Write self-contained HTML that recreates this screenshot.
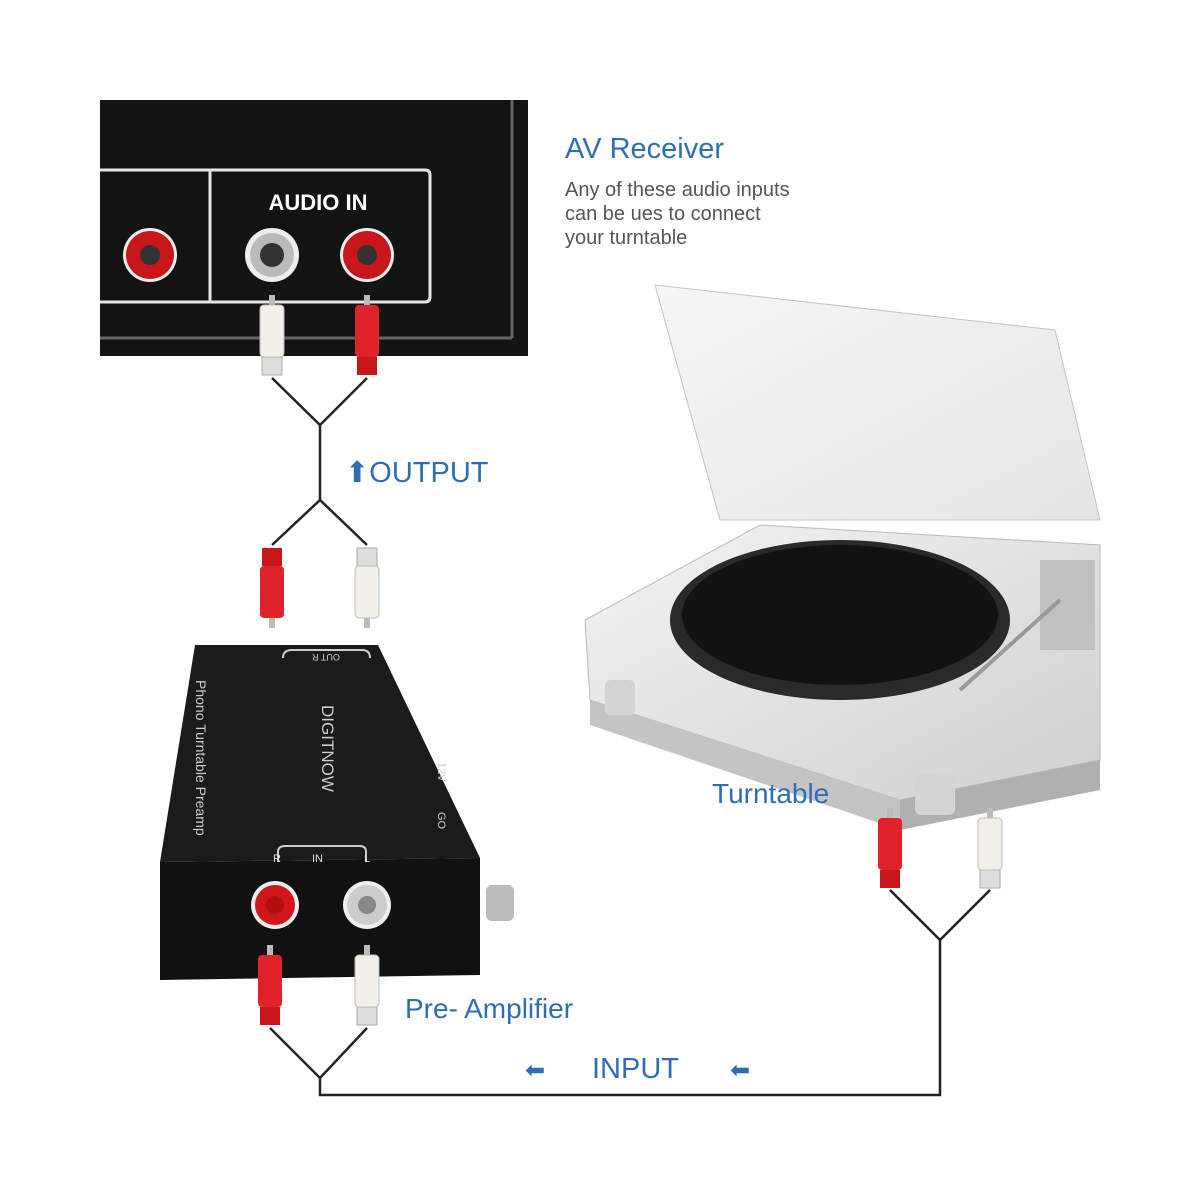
<!DOCTYPE html>
<html><head><meta charset="utf-8"><style>
html,body{margin:0;padding:0;background:#fff;}
svg{display:block;}
</style></head><body>
<svg width="1200" height="1200" viewBox="0 0 1200 1200" xmlns="http://www.w3.org/2000/svg" font-family="Liberation Sans, sans-serif">
<defs>
<linearGradient id="silver" x1="0" y1="0" x2="1" y2="1"><stop offset="0" stop-color="#f4f4f4"/><stop offset="1" stop-color="#d0d0d0"/></linearGradient>
<linearGradient id="lid" x1="0" y1="0" x2="1" y2="1"><stop offset="0" stop-color="#f6f6f6"/><stop offset="1" stop-color="#e6e6e6"/></linearGradient>
<g id="redplug"><rect x="-10" y="0" width="20" height="18" fill="#c8161b"/><rect x="-12" y="18" width="24" height="52" rx="4" fill="#e0222a"/><rect x="-3" y="70" width="6" height="10" fill="#bbb"/></g>
<g id="whiteplug"><rect x="-10" y="0" width="20" height="18" fill="#ddd" stroke="#aaa"/><rect x="-12" y="18" width="24" height="52" rx="4" fill="#f3f0ea" stroke="#bbb"/><rect x="-3" y="70" width="6" height="10" fill="#bbb"/></g>
</defs>

<!-- AV receiver -->
<rect x="100" y="100" width="428" height="256" fill="#131313"/>
<line x1="100" y1="338" x2="512" y2="338" stroke="#666" stroke-width="3"/>
<line x1="512" y1="100" x2="512" y2="338" stroke="#666" stroke-width="3"/>
<path d="M100 170 H425 Q430 170 430 175 V297 Q430 302 425 302 H100" fill="none" stroke="#e6e6e6" stroke-width="3"/>
<line x1="210" y1="170" x2="210" y2="302" stroke="#e6e6e6" stroke-width="3"/>
<text x="318" y="210" font-size="22" font-weight="bold" fill="#fff" text-anchor="middle">AUDIO IN</text>
<circle cx="150" cy="255" r="27" fill="#eee"/><circle cx="150" cy="255" r="24" fill="#c8161b"/><circle cx="150" cy="255" r="10" fill="#333"/>
<circle cx="272" cy="255" r="27" fill="#eee"/><circle cx="272" cy="255" r="22" fill="#bbb"/><circle cx="272" cy="255" r="12" fill="#333"/>
<circle cx="367" cy="255" r="27" fill="#eee"/><circle cx="367" cy="255" r="24" fill="#c8161b"/><circle cx="367" cy="255" r="10" fill="#333"/>

<text x="565" y="158" font-size="29" fill="#2f6db5">AV Receiver</text>
<text x="565" y="196" font-size="20" fill="#555">Any of these audio inputs</text>
<text x="565" y="220" font-size="20" fill="#555">can be ues to connect</text>
<text x="565" y="244" font-size="20" fill="#555">your turntable</text>

<!-- top cables -->
<use href="#whiteplug" transform="translate(272,375) rotate(180)"/>
<use href="#redplug" transform="translate(367,375) rotate(180)"/>
<polyline points="272,378 320,425 367,378" fill="none" stroke="#222" stroke-width="2.5"/>
<line x1="320" y1="425" x2="320" y2="500" stroke="#222" stroke-width="2.5"/>
<polyline points="272,545 320,500 367,545" fill="none" stroke="#222" stroke-width="2.5"/>
<use href="#redplug" transform="translate(272,548)"/>
<use href="#whiteplug" transform="translate(367,548)"/>
<text x="345" y="482" font-size="29" fill="#2f6db5">⬆OUTPUT</text>

<!-- turntable -->
<polygon points="655,285 1055,330 1100,520 720,520" fill="url(#lid)" stroke="#c4c4c4"/>
<polygon points="585,620 760,525 1100,545 1100,760 900,800 590,700" fill="url(#silver)" stroke="#bbb"/>
<polygon points="590,700 900,800 900,830 590,725" fill="#c4c4c4"/>
<polygon points="900,800 1100,760 1100,790 900,830" fill="#b0b0b0"/>
<ellipse cx="840" cy="620" rx="170" ry="80" fill="#2a2a2a"/>
<ellipse cx="840" cy="615" rx="158" ry="70" fill="#121212"/>
<rect x="605" y="680" width="30" height="35" rx="6" fill="#d4d4d4"/>
<rect x="915" y="775" width="40" height="40" rx="6" fill="#d4d4d4"/>
<rect x="1040" y="560" width="55" height="90" fill="#c0c0c0"/>
<line x1="1060" y1="600" x2="960" y2="690" stroke="#999" stroke-width="4"/>
<text x="712" y="803" font-size="28" fill="#2f6db5">Turntable</text>

<!-- preamp -->
<polygon points="195,645 378,645 480,858 160,862" fill="#1b1b1b"/>
<polygon points="160,862 480,858 480,975 160,980" fill="#111"/>
<path d="M283 658 Q283 650 292 650 H362 Q370 650 370 658" fill="none" stroke="#ccc" stroke-width="2"/>
<text x="326" y="660" font-size="9" fill="#ccc" text-anchor="middle" transform="rotate(180 326 657)">OUT  R</text>
<text x="196" y="680" font-size="14" fill="#ccc" transform="rotate(90 196 680)">Phono Turntable Preamp</text>
<text x="322" y="705" font-size="17" fill="#ccc" transform="rotate(90 322 705)">DIGITNOW</text>
<text x="438" y="762" font-size="11" fill="#ccc" transform="rotate(90 438 762)">12V</text>
<text x="438" y="812" font-size="11" fill="#ccc" transform="rotate(90 438 812)">GO</text>
<path d="M278 862 V852 Q278 846 285 846 H360 Q366 846 366 852 V862" fill="none" stroke="#ccc" stroke-width="2"/>
<text x="273" y="862" font-size="11" fill="#ddd">R</text>
<text x="312" y="862" font-size="11" fill="#ddd">IN</text>
<text x="364" y="862" font-size="11" fill="#ddd">L</text>
<circle cx="275" cy="905" r="24" fill="#eee"/><circle cx="275" cy="905" r="20" fill="#d0161c"/><circle cx="275" cy="905" r="9" fill="#b01010"/>
<circle cx="367" cy="905" r="24" fill="#eee"/><circle cx="367" cy="905" r="20" fill="#ccc"/><circle cx="367" cy="905" r="9" fill="#888"/>
<rect x="486" y="885" width="28" height="36" rx="6" fill="#bbb"/>

<!-- bottom cables -->
<use href="#redplug" transform="translate(270,1025) rotate(180)"/>
<use href="#whiteplug" transform="translate(367,1025) rotate(180)"/>
<polyline points="270,1028 320,1078 367,1028" fill="none" stroke="#222" stroke-width="2.5"/>
<polyline points="320,1078 320,1095 940,1095 940,940" fill="none" stroke="#222" stroke-width="2.5"/>
<polyline points="890,890 940,940 990,890" fill="none" stroke="#222" stroke-width="2.5"/>
<use href="#redplug" transform="translate(890,888) rotate(180)"/>
<use href="#whiteplug" transform="translate(990,888) rotate(180)"/>
<text x="405" y="1018" font-size="28" fill="#2f6db5">Pre- Amplifier</text>
<text x="592" y="1078" font-size="29" fill="#2f6db5">INPUT</text>
<text x="525" y="1078" font-size="24" fill="#2f6db5">⬅</text>
<text x="730" y="1078" font-size="24" fill="#2f6db5">⬅</text>
</svg>
</body></html>
